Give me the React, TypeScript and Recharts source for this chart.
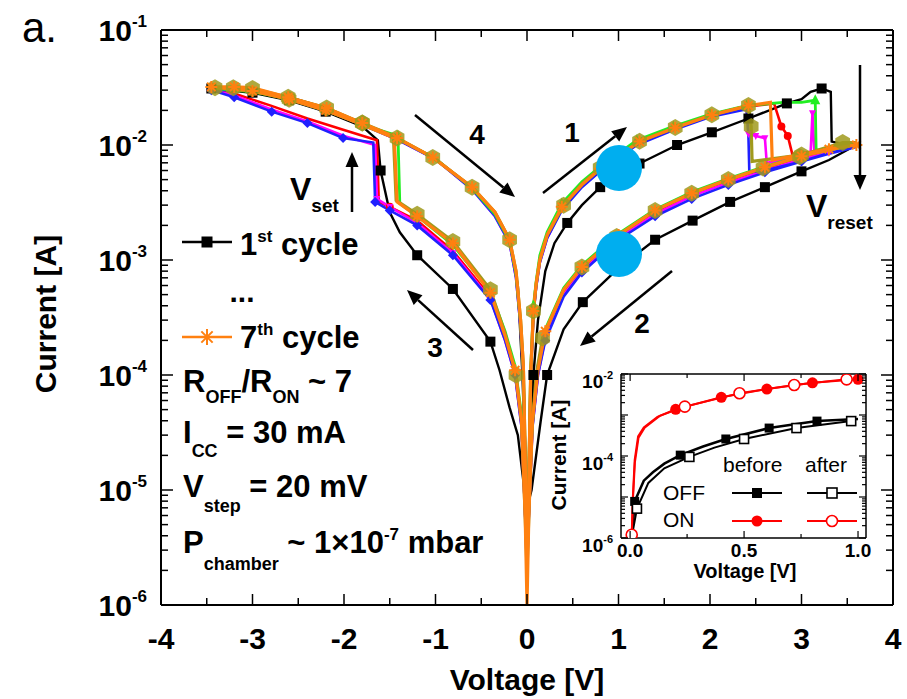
import React from 'react';
import { ComposedChart, Line, XAxis, YAxis } from 'recharts';

// [voltage (V), current (A), marker drawn (1) or not (0)]
type Pt = [number, number, number];

const FONT = '"Liberation Sans", Arial, Helvetica, sans-serif';

// ---- main plot: 7 switching cycles ----
const cycle1: Pt[] = [
  [0.0, 7e-6, 0], [0.05, 3e-5, 0], [0.07, 1e-4, 1], [0.12, 3e-4, 0], [0.2, 8e-4, 0], [0.3, 1.4e-3, 0],
  [0.44, 2.1e-3, 1], [0.6, 3.0e-3, 0], [0.8, 4.3e-3, 1], [1.0, 5.5e-3, 0], [1.23, 6.9e-3, 1], [1.64, 1.0e-2, 1],
  [2.02, 1.29e-2, 1], [2.42, 1.7e-2, 1], [2.84, 2.3e-2, 1], [3.0, 2.5e-2, 0], [3.1, 2.9e-2, 0], [3.22, 3.1e-2, 1],
  [3.32, 2.9e-2, 0], [3.33, 1.07e-2, 0], [3.45, 1.02e-2, 0], [3.6, 1.0e-2, 0],
  [3.3, 7.4e-3, 0], [3.0, 5.9e-3, 1], [2.6, 4.3e-3, 1], [2.22, 3.2e-3, 1], [1.81, 2.2e-3, 1], [1.4, 1.5e-3, 1],
  [1.0, 8.5e-4, 1], [0.61, 4.3e-4, 1], [0.4, 2.5e-4, 0], [0.22, 1.0e-4, 1], [0.15, 4e-5, 0], [0.1, 2e-5, 0],
  [0.05, 1e-5, 0], [0.0, 7e-6, 0],
  [-0.04, 1.2e-5, 0], [-0.1, 3e-5, 0], [-0.19, 5.2e-5, 0], [-0.3, 1.1e-4, 0], [-0.4, 1.95e-4, 1], [-0.81, 5.6e-4, 1],
  [-1.2, 1.1e-3, 1], [-1.39, 1.74e-3, 0], [-1.5, 2.6e-3, 0], [-1.6, 6.0e-3, 1], [-1.63, 1.1e-2, 0], [-1.8, 1.45e-2, 0],
  [-2.2, 1.95e-2, 1], [-2.6, 2.45e-2, 1], [-3.0, 2.85e-2, 1], [-3.45, 3.1e-2, 1],
  [-3.0, 3.0e-2, 0], [-2.6, 2.6e-2, 0], [-2.2, 2.1e-2, 0], [-1.8, 1.55e-2, 0], [-1.42, 1.15e-2, 0], [-1.03, 7.8e-3, 0],
  [-0.6, 4.3e-3, 0], [-0.3, 2.2e-3, 0], [-0.19, 1.5e-3, 0], [-0.1, 6e-4, 0], [-0.05, 1e-4, 0], [-0.02, 2e-5, 0], [0.0, 7e-6, 0],
];

const cycle2: Pt[] = [
  [0, 3e-6, 0], [0.02, 1.5e-5, 0], [0.04, 1e-4, 0], [0.07, 3.5e-4, 0], [0.1, 6e-4, 0], [0.14, 1e-3, 0], [0.22, 1.6e-3, 0],
  [0.38, 2.8e-3, 0], [0.6, 4.4e-3, 0], [0.8, 6e-3, 0], [1.2, 1.02e-2, 0], [1.6, 1.38e-2, 0], [2.0, 1.78e-2, 0],
  [2.4, 2.15e-2, 0], [2.7, 2.3e-2, 0], [2.78, 1.45e-2, 1], [2.85, 1.2e-2, 1], [2.9, 8.3e-3, 0], [3.2, 8.9e-3, 0], [3.6, 1.0e-2, 0],
  [3.3, 8.9e-3, 0], [3.0, 7.8e-3, 0], [2.6, 6.2e-3, 0], [2.2, 4.8e-3, 0], [1.8, 3.7e-3, 0], [1.4, 2.6e-3, 0],
  [1.0, 1.6e-3, 0], [0.6, 8.3e-4, 0], [0.4, 5.2e-4, 0], [0.2, 2.2e-4, 0], [0.12, 1.05e-4, 0], [0.06, 3.8e-5, 0], [0.02, 6e-6, 0], [0, 3e-6, 0],
  [-0.02, 6e-6, 0], [-0.06, 3.8e-5, 0], [-0.13, 1.05e-4, 0], [-0.24, 2.1e-4, 0], [-0.4, 4.8e-4, 0], [-0.81, 1.2e-3, 0],
  [-1.2, 2.2e-3, 0], [-1.5, 2.9e-3, 1], [-1.62, 3.2e-3, 0], [-1.64, 1.1e-2, 0], [-2.0, 1.35e-2, 0], [-2.4, 1.7e-2, 0],
  [-2.8, 2.2e-2, 0], [-3.2, 2.8e-2, 0], [-3.45, 3.1e-2, 0],
  [-3.0, 3.0e-2, 0], [-2.6, 2.55e-2, 0], [-2.2, 2.05e-2, 0], [-1.8, 1.52e-2, 0], [-1.4, 1.12e-2, 0], [-1.0, 7.6e-3, 0],
  [-0.6, 4.2e-3, 0], [-0.35, 2.5e-3, 0], [-0.19, 1.45e-3, 0], [-0.12, 7.5e-4, 0], [-0.07, 2.8e-4, 0], [-0.04, 1.1e-4, 0], [-0.02, 2e-5, 0], [0, 3e-6, 0],
];

const cycle3: Pt[] = [
  [0, 3e-6, 0], [0.02, 1.5e-5, 0], [0.04, 1.1e-4, 0], [0.07, 4e-4, 1], [0.1, 6.5e-4, 0], [0.14, 1.1e-3, 0], [0.22, 1.75e-3, 0],
  [0.38, 3.1e-3, 1], [0.6, 4.8e-3, 0], [0.8, 6.5e-3, 1], [1.2, 1.1e-2, 1], [1.6, 1.45e-2, 1], [2.0, 1.85e-2, 1],
  [2.4, 2.2e-2, 1], [2.8, 2.35e-2, 0], [3.0, 2.35e-2, 0], [3.15, 2.45e-2, 1], [3.16, 9.0e-3, 0], [3.4, 9.6e-3, 0], [3.6, 1.02e-2, 0],
  [3.3, 9.0e-3, 0], [3.0, 8.1e-3, 0], [2.6, 6.5e-3, 0], [2.2, 5.1e-3, 0], [1.8, 3.9e-3, 0], [1.4, 2.75e-3, 0],
  [1.0, 1.7e-3, 0], [0.6, 9e-4, 0], [0.4, 5.7e-4, 0], [0.2, 2.5e-4, 0], [0.12, 1.2e-4, 0], [0.06, 4e-5, 0], [0.02, 8e-6, 0], [0, 3e-6, 0],
  [-0.02, 8e-6, 0], [-0.06, 4.5e-5, 0], [-0.13, 1.2e-4, 0], [-0.24, 2.4e-4, 0], [-0.4, 5.3e-4, 0], [-0.81, 1.35e-3, 0],
  [-1.2, 2.4e-3, 0], [-1.39, 3.1e-3, 0], [-1.41, 1.2e-2, 1], [-1.8, 1.5e-2, 0], [-2.2, 2.0e-2, 0], [-2.6, 2.5e-2, 0],
  [-3.0, 2.9e-2, 0], [-3.4, 3.1e-2, 0],
  [-3.0, 3.05e-2, 0], [-2.6, 2.55e-2, 0], [-2.2, 2.05e-2, 0], [-1.8, 1.5e-2, 0], [-1.4, 1.12e-2, 0], [-1.0, 7.6e-3, 0],
  [-0.6, 4.2e-3, 0], [-0.35, 2.5e-3, 0], [-0.19, 1.45e-3, 0], [-0.12, 7.5e-4, 0], [-0.07, 2.8e-4, 0], [-0.04, 1.1e-4, 0], [-0.02, 2e-5, 0], [0, 3e-6, 0],
];

const cycle4: Pt[] = [
  [0, 2e-6, 0], [0.02, 1.2e-5, 0], [0.04, 9e-5, 0], [0.07, 3.3e-4, 0], [0.1, 5.8e-4, 0], [0.14, 9.5e-4, 0], [0.22, 1.55e-3, 0],
  [0.38, 2.7e-3, 0], [0.6, 4.3e-3, 0], [0.8, 5.9e-3, 0], [1.2, 1.0e-2, 0], [1.6, 1.35e-2, 0], [2.0, 1.75e-2, 0],
  [2.4, 2.05e-2, 0], [2.42, 1.2e-2, 0], [2.43, 5.8e-3, 0], [2.6, 6.0e-3, 0], [3.0, 7.2e-3, 0], [3.3, 8.5e-3, 0], [3.6, 9.6e-3, 0],
  [3.3, 8.4e-3, 0], [3.0, 7.2e-3, 1], [2.6, 5.8e-3, 1], [2.2, 4.5e-3, 1], [1.8, 3.4e-3, 1], [1.4, 2.4e-3, 1],
  [1.0, 1.5e-3, 1], [0.6, 7.8e-4, 1], [0.4, 4.8e-4, 0], [0.2, 2.0e-4, 1], [0.12, 1e-4, 0], [0.06, 3.5e-5, 0], [0.02, 6e-6, 0], [0, 2e-6, 0],
  [-0.02, 6e-6, 0], [-0.06, 3.5e-5, 0], [-0.13, 1e-4, 1], [-0.24, 2e-4, 0], [-0.4, 4.5e-4, 1], [-0.81, 1.1e-3, 1],
  [-1.2, 2.0e-3, 1], [-1.5, 2.7e-3, 1], [-1.66, 3.2e-3, 1], [-1.68, 1.05e-2, 0], [-2.01, 1.15e-2, 1], [-2.4, 1.55e-2, 1],
  [-2.79, 1.95e-2, 1], [-3.2, 2.6e-2, 1], [-3.45, 3.0e-2, 1],
  [-3.0, 3.0e-2, 0], [-2.6, 2.5e-2, 0], [-2.2, 2.0e-2, 0], [-1.8, 1.5e-2, 0], [-1.4, 1.1e-2, 0], [-1.0, 7.5e-3, 0],
  [-0.6, 4.1e-3, 0], [-0.35, 2.4e-3, 0], [-0.19, 1.4e-3, 0], [-0.12, 7e-4, 0], [-0.07, 2.6e-4, 0], [-0.04, 1e-4, 0], [-0.02, 2e-5, 0], [0, 2e-6, 0],
];

const cycle5: Pt[] = [
  [0, 2e-6, 0], [0.02, 1.2e-5, 0], [0.04, 9e-5, 0], [0.07, 3.3e-4, 0], [0.1, 5.8e-4, 0], [0.14, 9.5e-4, 0], [0.22, 1.55e-3, 0],
  [0.38, 2.75e-3, 0], [0.6, 4.4e-3, 0], [0.8, 6e-3, 0], [1.2, 1.02e-2, 0], [1.6, 1.38e-2, 0], [2.0, 1.78e-2, 0],
  [2.4, 2.1e-2, 0], [2.42, 1.25e-2, 1], [2.5, 1.2e-2, 1], [2.6, 1.15e-2, 1], [2.62, 7e-3, 0], [2.8, 7.4e-3, 0],
  [3.1, 8.6e-3, 0], [3.12, 1.9e-2, 1], [3.14, 8.8e-3, 0], [3.6, 9.8e-3, 0],
  [3.3, 8.6e-3, 1], [3.0, 7.5e-3, 1], [2.6, 6.0e-3, 1], [2.2, 4.7e-3, 1], [1.8, 3.6e-3, 1], [1.4, 2.5e-3, 1],
  [1.0, 1.55e-3, 1], [0.6, 8e-4, 1], [0.4, 5e-4, 0], [0.2, 2.1e-4, 1], [0.12, 1e-4, 0], [0.06, 3.6e-5, 0], [0.02, 6e-6, 0], [0, 2e-6, 0],
  [-0.02, 6e-6, 0], [-0.06, 3.6e-5, 0], [-0.13, 1e-4, 0], [-0.24, 2e-4, 0], [-0.4, 4.6e-4, 1], [-0.81, 1.15e-3, 1],
  [-1.2, 2.1e-3, 1], [-1.5, 2.9e-3, 1], [-1.64, 3.4e-3, 1], [-1.66, 1.0e-2, 0], [-2.0, 1.2e-2, 0], [-2.4, 1.6e-2, 0],
  [-2.8, 2.05e-2, 0], [-3.2, 2.7e-2, 0], [-3.45, 3.05e-2, 0],
  [-3.0, 3.0e-2, 0], [-2.6, 2.52e-2, 0], [-2.2, 2.02e-2, 0], [-1.8, 1.5e-2, 0], [-1.4, 1.1e-2, 0], [-1.0, 7.5e-3, 0],
  [-0.6, 4.1e-3, 0], [-0.35, 2.4e-3, 0], [-0.19, 1.4e-3, 0], [-0.12, 7e-4, 0], [-0.07, 2.6e-4, 0], [-0.04, 1e-4, 0], [-0.02, 2e-5, 0], [0, 2e-6, 0],
];

const cycle6: Pt[] = [
  [0, 2e-6, 0], [0.02, 1.2e-5, 0], [0.04, 1e-4, 0], [0.07, 3.6e-4, 1], [0.1, 6.2e-4, 0], [0.14, 1e-3, 0], [0.22, 1.65e-3, 0],
  [0.4, 3.0e-3, 1], [0.6, 4.6e-3, 0], [0.8, 6.3e-3, 1], [1.0, 8.1e-3, 0], [1.23, 1.08e-2, 1], [1.62, 1.42e-2, 1],
  [2.02, 1.83e-2, 1], [2.42, 2.2e-2, 1], [2.45, 1.45e-2, 1], [2.46, 7.2e-3, 0], [3.0, 8.2e-3, 1], [3.45, 1.05e-2, 1], [3.6, 1.05e-2, 0],
  [3.45, 1.02e-2, 0], [2.98, 7.9e-3, 1], [2.58, 6.3e-3, 1], [2.2, 5.0e-3, 1], [1.8, 3.8e-3, 1], [1.4, 2.7e-3, 1],
  [0.98, 1.6e-3, 1], [0.6, 8.7e-4, 1], [0.4, 5.5e-4, 0], [0.17, 2.1e-4, 1], [0.1, 1e-4, 0], [0.05, 3e-5, 0], [0.02, 6e-6, 0], [0, 2e-6, 0],
  [-0.02, 6e-6, 0], [-0.06, 4e-5, 0], [-0.12, 1e-4, 1], [-0.24, 2.3e-4, 0], [-0.4, 5.5e-4, 1], [-0.81, 1.45e-3, 1],
  [-1.2, 2.5e-3, 1], [-1.43, 3.3e-3, 0], [-1.46, 1.2e-2, 0], [-1.8, 1.55e-2, 1], [-2.2, 2.0e-2, 0], [-2.6, 2.5e-2, 1],
  [-3.0, 2.95e-2, 0], [-3.41, 3.15e-2, 1],
  [-3.21, 3.15e-2, 1], [-3.0, 3.1e-2, 1], [-2.61, 2.6e-2, 1], [-2.19, 2.1e-2, 1], [-1.8, 1.55e-2, 1], [-1.42, 1.15e-2, 1],
  [-1.03, 7.8e-3, 1], [-0.6, 4.3e-3, 1], [-0.35, 2.6e-3, 0], [-0.19, 1.5e-3, 1], [-0.12, 8e-4, 0], [-0.07, 3e-4, 0],
  [-0.04, 1.2e-4, 0], [-0.02, 2e-5, 0], [0, 2e-6, 0],
];

const cycle7: Pt[] = [
  [0, 1e-6, 0], [0.02, 1.2e-5, 0], [0.04, 1e-4, 0], [0.07, 3.6e-4, 1], [0.1, 6.2e-4, 0], [0.14, 1e-3, 0], [0.22, 1.65e-3, 0],
  [0.38, 2.9e-3, 1], [0.6, 4.5e-3, 0], [0.8, 6.2e-3, 1], [1.0, 8e-3, 0], [1.23, 1.07e-2, 1], [1.62, 1.41e-2, 1],
  [2.02, 1.82e-2, 1], [2.42, 2.2e-2, 1], [2.66, 2.35e-2, 0], [2.68, 7.4e-3, 0], [3.0, 8.3e-3, 0], [3.3, 9.2e-3, 1], [3.6, 1.0e-2, 1],
  [3.45, 9.6e-3, 0], [3.0, 8.0e-3, 1], [2.6, 6.4e-3, 1], [2.2, 5.0e-3, 1], [1.8, 3.8e-3, 1], [1.4, 2.7e-3, 1],
  [1.0, 1.65e-3, 1], [0.6, 8.7e-4, 1], [0.4, 5.5e-4, 0], [0.2, 2.4e-4, 1], [0.12, 1.1e-4, 0], [0.06, 4e-5, 0], [0.02, 6e-6, 0], [0, 1e-6, 0],
  [-0.02, 6e-6, 0], [-0.06, 4e-5, 0], [-0.13, 1.1e-4, 1], [-0.24, 2.2e-4, 0], [-0.4, 5.2e-4, 1], [-0.81, 1.4e-3, 1],
  [-1.2, 2.4e-3, 1], [-1.42, 3.2e-3, 0], [-1.45, 1.15e-2, 0], [-1.8, 1.5e-2, 0], [-2.2, 2.0e-2, 1], [-2.6, 2.5e-2, 1],
  [-3.0, 2.95e-2, 1], [-3.45, 3.2e-2, 1],
  [-3.2, 3.2e-2, 1], [-3.0, 3.15e-2, 0], [-2.61, 2.6e-2, 1], [-2.19, 2.1e-2, 1], [-1.8, 1.55e-2, 1], [-1.42, 1.15e-2, 1],
  [-1.03, 7.8e-3, 1], [-0.6, 4.3e-3, 1], [-0.35, 2.6e-3, 0], [-0.19, 1.5e-3, 1], [-0.12, 8e-4, 0], [-0.07, 3e-4, 0],
  [-0.04, 1.2e-4, 0], [-0.02, 2e-5, 0], [0, 1e-6, 0],
];

// ---- inset: before / after ----
const offBefore: Pt[] = [
  [0.01, 1.5e-6, 0], [0.02, 7.8e-6, 1], [0.06, 2.5e-5, 0], [0.1, 4e-5, 0], [0.15, 6.5e-5, 0], [0.22, 1.05e-4, 1],
  [0.32, 1.7e-4, 0], [0.42, 2.6e-4, 1], [0.61, 4.8e-4, 1], [0.82, 7.1e-4, 1], [1.0, 8e-4, 0],
];
const offAfter: Pt[] = [
  [0.01, 1.3e-6, 0], [0.03, 5.2e-6, 1], [0.08, 2.2e-5, 0], [0.15, 5e-5, 0], [0.26, 9.5e-5, 1], [0.37, 1.6e-4, 0],
  [0.5, 2.6e-4, 1], [0.73, 4.8e-4, 1], [0.97, 7.1e-4, 1],
];
const onBefore: Pt[] = [
  [0.007, 1.2e-6, 1], [0.012, 1e-5, 0], [0.02, 8e-5, 0], [0.035, 3e-4, 0], [0.06, 5e-4, 0], [0.12, 9e-4, 0],
  [0.2, 1.38e-3, 1], [0.4, 2.7e-3, 1], [0.6, 4.3e-3, 1], [0.8, 6.1e-3, 1], [1.0, 7.4e-3, 1],
];
const onAfter: Pt[] = [
  [0.007, 1.2e-6, 1], [0.013, 1e-5, 0], [0.021, 7e-5, 0], [0.037, 2.8e-4, 0], [0.065, 5e-4, 0], [0.13, 9.5e-4, 0],
  [0.24, 1.6e-3, 1], [0.48, 3.4e-3, 1], [0.72, 5.4e-3, 1], [0.95, 7.4e-3, 1],
];

const X_TICKS = [-4, -3.5, -3, -2.5, -2, -1.5, -1, -0.5, 0, 0.5, 1, 1.5, 2, 2.5, 3, 3.5, 4];
const Y_DECADES = [1e-6, 1e-5, 1e-4, 1e-3, 1e-2, 1e-1];
const INSET_X_TICKS = [0, 0.25, 0.5, 0.75, 1.0];
const INSET_DECADES = [1e-6, 1e-5, 1e-4, 1e-3, 1e-2];
const MANTISSAS = [1, 2, 3, 4, 5, 6, 7, 8, 9];

const logTicks = (decades: number[]) => {
  const top = decades[decades.length - 1];
  const out: number[] = [];
  decades.forEach((d) => {
    MANTISSAS.forEach((m) => {
      const v = d * m;
      if (v <= top * 1.0001) out.push(v);
    });
  });
  return out;
};
const MAIN_Y_TICKS = logTicks(Y_DECADES);
const INSET_Y_TICKS = logTicks(INSET_DECADES);

const rows = (pts: Pt[]) => pts.map(([v, i, m]) => ({ v, i, m }));

const isDecade = (v: number) => {
  const l = Math.log10(v);
  return Math.abs(l - Math.round(l)) < 1e-6;
};

// ---- markers ----
function marker(shape: string, color: string, size: number, cx: number, cy: number, key: string) {
  const s = size;
  switch (shape) {
    case 'square':
      return <rect key={key} x={cx - s / 2} y={cy - s / 2} width={s} height={s} fill={color} />;
    case 'open-square':
      return <rect key={key} x={cx - s / 2} y={cy - s / 2} width={s} height={s} fill="#fff" stroke={color} strokeWidth={1.6} />;
    case 'circle':
      return <circle key={key} cx={cx} cy={cy} r={s / 2} fill={color} />;
    case 'open-circle':
      return <circle key={key} cx={cx} cy={cy} r={s / 2} fill="#fff" stroke={color} strokeWidth={1.6} />;
    case 'triangle':
      return <polygon key={key} points={`${cx},${cy - s * 0.6} ${cx - s / 2},${cy + s * 0.4} ${cx + s / 2},${cy + s * 0.4}`} fill={color} />;
    case 'tri-down':
      return <polygon key={key} points={`${cx},${cy + s * 0.6} ${cx - s / 2},${cy - s * 0.4} ${cx + s / 2},${cy - s * 0.4}`} fill={color} />;
    case 'diamond':
      return <polygon key={key} points={`${cx},${cy - s / 2} ${cx + s / 2},${cy} ${cx},${cy + s / 2} ${cx - s / 2},${cy}`} fill={color} />;
    case 'hexagon': {
      const r = s / 2;
      const pts = [0, 1, 2, 3, 4, 5]
        .map((k) => {
          const a = (Math.PI / 3) * k + Math.PI / 6;
          return `${cx + r * Math.cos(a)},${cy + r * Math.sin(a)}`;
        })
        .join(' ');
      return <polygon key={key} points={pts} fill={color} fillOpacity={0.85} />;
    }
    case 'star': {
      const r = s / 2;
      const d = r * 0.707;
      return (
        <path
          key={key}
          d={`M${cx - r},${cy}L${cx + r},${cy}M${cx},${cy - r}L${cx},${cy + r}M${cx - d},${cy - d}L${cx + d},${cy + d}M${cx - d},${cy + d}L${cx + d},${cy - d}`}
          stroke={color}
          strokeWidth={2}
        />
      );
    }
    default:
      return <g key={key} />;
  }
}

const dotFor = (shape: string, color: string, size: number) => (props: any) => {
  const { cx, cy, payload, index } = props;
  if (!payload || !payload.m || cx == null || cy == null) return <g key={`n${index}`} />;
  return marker(shape, color, size, cx, cy, `d${index}`);
};

const CYCLES = [
  { name: 'c1', pts: cycle1, color: '#000000', shape: 'square', size: 10, width: 2.4 },
  { name: 'c2', pts: cycle2, color: '#ff0000', shape: 'circle', size: 8, width: 2.6 },
  { name: 'c5', pts: cycle5, color: '#ff00ff', shape: 'tri-down', size: 7, width: 2.6 },
  { name: 'c4', pts: cycle4, color: '#2020ff', shape: 'diamond', size: 10, width: 2.6 },
  { name: 'c3', pts: cycle3, color: '#22ee22', shape: 'triangle', size: 10, width: 2.8 },
  { name: 'c6', pts: cycle6, color: '#a09a1c', shape: 'hexagon', size: 17, width: 3.2 },
  { name: 'c7', pts: cycle7, color: '#ff8010', shape: 'star', size: 12, width: 3.2 },
];

const INSET_SERIES = [
  { name: 'offB', pts: offBefore, color: '#000000', shape: 'square', size: 9, width: 2.5 },
  { name: 'offA', pts: offAfter, color: '#000000', shape: 'open-square', size: 9, width: 2 },
  { name: 'onB', pts: onBefore, color: '#ff0000', shape: 'circle', size: 11, width: 2 },
  { name: 'onA', pts: onAfter, color: '#ff0000', shape: 'open-circle', size: 11, width: 2 },
];

// ---- axis ticks (drawn inward) ----
const LeftTick = (p: any) => {
  const { x, y, payload } = p;
  const v = payload.value;
  const major = isDecade(v);
  return (
    <g>
      <line x1={x} x2={x + (major ? 12 : 7)} y1={y} y2={y} stroke="#000" strokeWidth={1.5} />
      {major && (
        <text x={x - 14} y={y + 11} textAnchor="end" fontFamily={FONT} fontWeight="bold" fontSize={30} fill="#000">
          10
          <tspan dy={-14} fontSize={17}>
            {String(Math.round(Math.log10(v)))}
          </tspan>
        </text>
      )}
    </g>
  );
};

const RightTick = (p: any) => {
  const { x, y, payload } = p;
  const major = isDecade(payload.value);
  return <line x1={x} x2={x - (major ? 12 : 7)} y1={y} y2={y} stroke="#000" strokeWidth={1.5} />;
};

const BottomTick = (p: any) => {
  const { x, y, payload } = p;
  const v = payload.value;
  const major = Number.isInteger(v);
  return (
    <g>
      <line x1={x} x2={x} y1={y} y2={y - (major ? 11 : 7)} stroke="#000" strokeWidth={1.5} />
      {major && (
        <text x={x} y={y + 44} textAnchor="middle" fontFamily={FONT} fontWeight="bold" fontSize={30} fill="#000">
          {String(v)}
        </text>
      )}
    </g>
  );
};

const TopTick = (p: any) => {
  const { x, y, payload } = p;
  const major = Number.isInteger(payload.value);
  return <line x1={x} x2={x} y1={y} y2={y + (major ? 11 : 7)} stroke="#000" strokeWidth={1.5} />;
};

const InsetLeftTick = (p: any) => {
  const { x, y, payload } = p;
  const v = payload.value;
  const major = isDecade(v);
  const e = Math.round(Math.log10(v));
  return (
    <g>
      <line x1={x} x2={x + (major ? 7 : 4)} y1={y} y2={y} stroke="#000" strokeWidth={1.2} />
      {major && e % 2 === 0 && (
        <text x={x - 8} y={y + 14} textAnchor="end" fontFamily={FONT} fontWeight="bold" fontSize={19} fill="#000">
          10
          <tspan dy={-9} fontSize={11}>
            {String(e)}
          </tspan>
        </text>
      )}
    </g>
  );
};

const InsetRightTick = (p: any) => {
  const { x, y, payload } = p;
  const major = isDecade(payload.value);
  return <line x1={x} x2={x - (major ? 7 : 4)} y1={y} y2={y} stroke="#000" strokeWidth={1.2} />;
};

const InsetBottomTick = (p: any) => {
  const { x, y, payload } = p;
  const v = payload.value;
  const major = Math.abs(v * 2 - Math.round(v * 2)) < 1e-6;
  return (
    <g>
      <line x1={x} x2={x} y1={y} y2={y - (major ? 7 : 4)} stroke="#000" strokeWidth={1.2} />
      {major && (
        <text x={x} y={y + 19} textAnchor="middle" fontFamily={FONT} fontWeight="bold" fontSize={19} fill="#000">
          {v.toFixed(1)}
        </text>
      )}
    </g>
  );
};

const InsetTopTick = (p: any) => {
  const { x, y, payload } = p;
  const v = payload.value;
  const major = Math.abs(v * 2 - Math.round(v * 2)) < 1e-6;
  return <line x1={x} x2={x} y1={y} y2={y + (major ? 7 : 4)} stroke="#000" strokeWidth={1.2} />;
};

// ---- annotation arrow ----
const Arrow = ({ x1, y1, x2, y2 }: { x1: number; y1: number; x2: number; y2: number }) => {
  const a = Math.atan2(y2 - y1, x2 - x1);
  const L = 15;
  const W = 6.5;
  const bx = x2 - L * Math.cos(a);
  const by = y2 - L * Math.sin(a);
  const p1 = `${bx + W * Math.sin(a)},${by - W * Math.cos(a)}`;
  const p2 = `${bx - W * Math.sin(a)},${by + W * Math.cos(a)}`;
  return (
    <g>
      <line x1={x1} y1={y1} x2={bx} y2={by} stroke="#000" strokeWidth={2.5} />
      <polygon points={`${x2},${y2} ${p1} ${p2}`} fill="#000" />
    </g>
  );
};

const axisLine = { stroke: '#000', strokeWidth: 2 };
const insetAxisLine = { stroke: '#000', strokeWidth: 1.5 };

export default function App() {
  const bold = { fontFamily: FONT, fontWeight: 'bold' as const, fill: '#000' };
  return (
    <div style={{ position: 'absolute', left: 0, top: 0, width: 907, height: 699, background: '#fff', overflow: 'hidden' }}>
      <div style={{ position: 'absolute', left: 0, top: 0 }}>
        <ComposedChart width={907} height={699} margin={{ top: 29, right: 13, bottom: 34, left: 81 }}>
          <XAxis xAxisId="b" dataKey="v" type="number" domain={[-4, 4]} allowDataOverflow ticks={X_TICKS} interval={0}
            tickSize={0} tickMargin={0} tickLine={false} axisLine={axisLine} height={60} tick={(p: any) => <BottomTick {...p} />} />
          <XAxis xAxisId="t" orientation="top" dataKey="v" type="number" domain={[-4, 4]} allowDataOverflow ticks={X_TICKS} interval={0}
            tickSize={0} tickMargin={0} tickLine={false} axisLine={axisLine} height={1} tick={(p: any) => <TopTick {...p} />} />
          <YAxis yAxisId="l" type="number" scale="log" domain={[1e-6, 1e-1]} allowDataOverflow ticks={MAIN_Y_TICKS} interval={0}
            tickSize={0} tickMargin={0} tickLine={false} axisLine={axisLine} width={80} tick={(p: any) => <LeftTick {...p} />} />
          <YAxis yAxisId="r" orientation="right" type="number" scale="log" domain={[1e-6, 1e-1]} allowDataOverflow ticks={MAIN_Y_TICKS} interval={0}
            tickSize={0} tickMargin={0} tickLine={false} axisLine={axisLine} width={1} tick={(p: any) => <RightTick {...p} />} />
          {CYCLES.map((c) => (
            <Line key={c.name} xAxisId="b" yAxisId="l" data={rows(c.pts)} dataKey="i" type="linear" stroke={c.color}
              strokeWidth={c.width} dot={dotFor(c.shape, c.color, c.size)} activeDot={false} isAnimationActive={false} />
          ))}
        </ComposedChart>
      </div>

      <div style={{ position: 'absolute', left: 560, top: 360 }}>
        <ComposedChart width={330} height={230} margin={{ top: 13, right: 23, bottom: 12, left: 21 }}>
          <XAxis xAxisId="b" dataKey="v" type="number" domain={[-0.04, 1.035]} allowDataOverflow ticks={INSET_X_TICKS} interval={0}
            tickSize={0} tickMargin={0} tickLine={false} axisLine={insetAxisLine} height={40} tick={(p: any) => <InsetBottomTick {...p} />} />
          <XAxis xAxisId="t" orientation="top" dataKey="v" type="number" domain={[-0.04, 1.035]} allowDataOverflow ticks={INSET_X_TICKS} interval={0}
            tickSize={0} tickMargin={0} tickLine={false} axisLine={insetAxisLine} height={1} tick={(p: any) => <InsetTopTick {...p} />} />
          <YAxis yAxisId="l" type="number" scale="log" domain={[1e-6, 1e-2]} allowDataOverflow ticks={INSET_Y_TICKS} interval={0}
            tickSize={0} tickMargin={0} tickLine={false} axisLine={insetAxisLine} width={40} tick={(p: any) => <InsetLeftTick {...p} />} />
          <YAxis yAxisId="r" orientation="right" type="number" scale="log" domain={[1e-6, 1e-2]} allowDataOverflow ticks={INSET_Y_TICKS} interval={0}
            tickSize={0} tickMargin={0} tickLine={false} axisLine={insetAxisLine} width={1} tick={(p: any) => <InsetRightTick {...p} />} />
          {INSET_SERIES.map((s) => (
            <Line key={s.name} xAxisId="b" yAxisId="l" data={rows(s.pts)} dataKey="i" type="linear" stroke={s.color}
              strokeWidth={s.width} dot={dotFor(s.shape, s.color, s.size)} activeDot={false} isAnimationActive={false} />
          ))}
        </ComposedChart>
      </div>

      <svg width={907} height={699} style={{ position: 'absolute', left: 0, top: 0, pointerEvents: 'none' }}>
        <text x={22} y={42} fontFamily={FONT} fontSize={42} fill="#000">a.</text>

        {/* axis titles */}
        <text x={527} y={690} textAnchor="middle" fontSize={30} {...bold}>Voltage [V]</text>
        <text transform="translate(56,314) rotate(-90)" textAnchor="middle" fontSize={30} {...bold}>Current [A]</text>

        {/* legend + conditions */}
        <line x1={182} y1={242} x2={232} y2={242} stroke="#000" strokeWidth={2.5} />
        {marker('square', '#000', 11, 207, 242, 'lg1')}
        <text x={240} y={255} fontSize={31} {...bold}>
          1<tspan dy={-13} fontSize={17}>st</tspan>
          <tspan dy={13}>{' cycle'}</tspan>
        </text>
        <text x={242} y={302} textAnchor="middle" fontSize={30} {...bold}>...</text>
        <line x1={182} y1={337} x2={232} y2={337} stroke="#ff8010" strokeWidth={2.5} />
        {marker('star', '#ff8010', 16, 207, 337, 'lg7')}
        <text x={240} y={348} fontSize={31} {...bold}>
          7<tspan dy={-13} fontSize={17}>th</tspan>
          <tspan dy={13}>{' cycle'}</tspan>
        </text>
        <text x={183} y={392} fontSize={31} {...bold}>
          R<tspan dy={11} fontSize={18}>OFF</tspan>
          <tspan dy={-11}>/R</tspan>
          <tspan dy={11} fontSize={18}>ON</tspan>
          <tspan dy={-11}>{' ~ 7'}</tspan>
        </text>
        <text x={183} y={443} fontSize={31} {...bold}>
          I<tspan dy={14} fontSize={18}>CC</tspan>
          <tspan dy={-14}>{' = 30 mA'}</tspan>
        </text>
        <text x={183} y={497} fontSize={31} {...bold}>
          V<tspan dy={15} fontSize={18}>step</tspan>
          <tspan dy={-15}>{' = 20 mV'}</tspan>
        </text>
        <text x={183} y={553} fontSize={31} {...bold}>
          P<tspan dy={17} fontSize={18}>chamber</tspan>
          <tspan dy={-17}>{' ~ 1×10'}</tspan>
          <tspan dy={-13} fontSize={17}>-7</tspan>
          <tspan dy={13}>{' mbar'}</tspan>
        </text>

        {/* sweep direction arrows */}
        <Arrow x1={415} y1={115} x2={515} y2={197} />
        <text x={477} y={144} textAnchor="middle" fontSize={28} {...bold}>4</text>
        <Arrow x1={543} y1={193} x2={627} y2={127} />
        <text x={572} y={142} textAnchor="middle" fontSize={28} {...bold}>1</text>
        <Arrow x1={672} y1={271} x2={580} y2={346} />
        <text x={642} y={333} textAnchor="middle" fontSize={28} {...bold}>2</text>
        <Arrow x1={473} y1={350} x2={407} y2={290} />
        <text x={435} y={357} textAnchor="middle" fontSize={28} {...bold}>3</text>

        <Arrow x1={352} y1={212} x2={352} y2={152} />
        <text x={290} y={200} fontSize={32} {...bold}>
          V<tspan dy={12} fontSize={19}>set</tspan>
        </text>
        <Arrow x1={860} y1={65} x2={860} y2={190} />
        <text x={806} y={217} fontSize={32} {...bold}>
          V<tspan dy={12} fontSize={19}>reset</tspan>
        </text>

        {/* inset titles and legend */}
        <text x={745} y={578} textAnchor="middle" fontSize={20} {...bold}>Voltage [V]</text>
        <text transform="translate(566,455) rotate(-90)" textAnchor="middle" fontSize={21} {...bold}>Current [A]</text>
        <text x={723} y={472} fontFamily={FONT} fontSize={21} fill="#000">before</text>
        <text x={805} y={472} fontFamily={FONT} fontSize={21} fill="#000">after</text>
        <text x={663} y={500} fontFamily={FONT} fontSize={21} fill="#000">OFF</text>
        <text x={663} y={527} fontFamily={FONT} fontSize={21} fill="#000">ON</text>
        <line x1={732} y1={493} x2={782} y2={493} stroke="#000" strokeWidth={2} />
        {marker('square', '#000', 10, 757, 493, 'il1')}
        <line x1={807} y1={493} x2={857} y2={493} stroke="#000" strokeWidth={2} />
        {marker('open-square', '#000', 10, 832, 493, 'il2')}
        <line x1={732} y1={521} x2={782} y2={521} stroke="#ff0000" strokeWidth={2} />
        {marker('circle', '#ff0000', 11, 757, 521, 'il3')}
        <line x1={807} y1={521} x2={857} y2={521} stroke="#ff0000" strokeWidth={2} />
        {marker('open-circle', '#ff0000', 11, 832, 521, 'il4')}

        {/* cyan dots present in the figure */}
        <circle cx={619} cy={168} r={23} fill="#00aeef" />
        <circle cx={619} cy={254} r={23} fill="#00aeef" />
      </svg>
    </div>
  );
}
